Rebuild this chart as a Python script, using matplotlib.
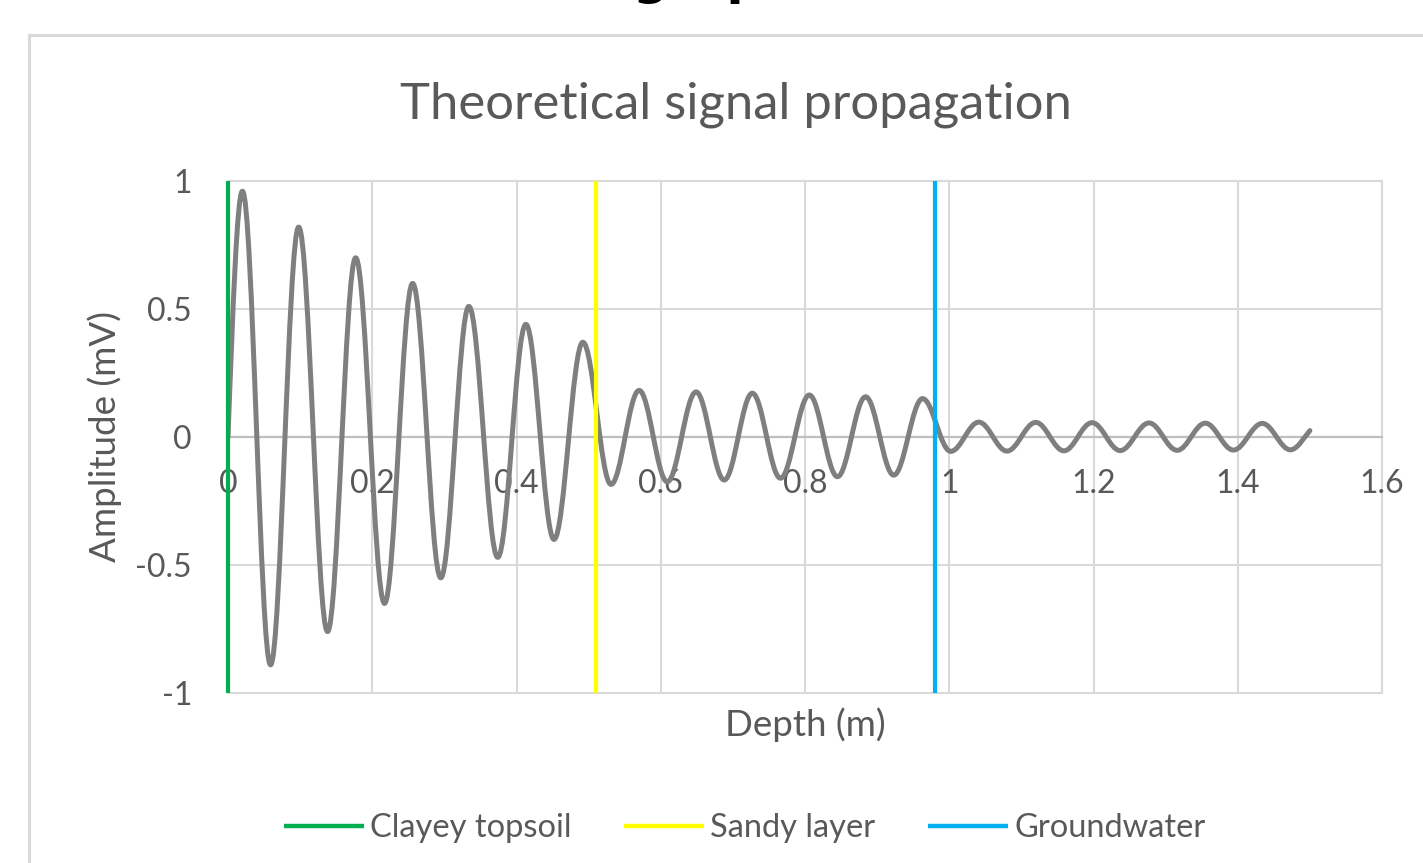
import matplotlib
matplotlib.use("Agg")
import matplotlib.pyplot as plt
from matplotlib.path import Path
from matplotlib.patches import PathPatch, Rectangle
from matplotlib.ticker import FixedLocator, FixedFormatter

plt.rcParams['font.family'] = ['Lato', 'DejaVu Sans']

# ---------------- data ----------------
# extrema of the theoretical signal (peaks / troughs), start and end point
depth = [0.000, 0.020, 0.059, 0.098, 0.138, 0.177, 0.217, 0.256, 0.295, 0.334, 0.374, 0.413, 0.452, 0.492,
         0.531, 0.570, 0.609, 0.649, 0.688, 0.727, 0.766, 0.806, 0.845, 0.884, 0.923, 0.963,
         1.002, 1.041, 1.080, 1.120, 1.159, 1.198, 1.237, 1.277, 1.316, 1.355, 1.394, 1.434, 1.473, 1.500]
amplitude = [0.00, 0.96, -0.89, 0.82, -0.76, 0.70, -0.65, 0.60, -0.55, 0.51, -0.47, 0.44, -0.40, 0.37,
             -0.185, 0.182, -0.175, 0.176, -0.168, 0.171, -0.161, 0.164, -0.155, 0.157, -0.149, 0.150,
             -0.056, 0.058, -0.055, 0.057, -0.054, 0.056, -0.053, 0.055, -0.052, 0.054, -0.051, 0.053, -0.050, 0.025]

layer_names = ['Clayey topsoil', 'Sandy layer', 'Groundwater']
layer_depths = [0.0, 0.51, 0.98]
layer_colors = ['#00b050', '#ffff00', '#00b0f0']
marker_span = [-1, 1]

x_ticks = [0, 0.2, 0.4, 0.6, 0.8, 1.0, 1.2, 1.4, 1.6]
x_tick_labels = ['0', '0.2', '0.4', '0.6', '0.8', '1', '1.2', '1.4', '1.6']
y_ticks = [-1, -0.5, 0, 0.5, 1]
y_tick_labels = ['-1', '-0.5', '0', '0.5', '1']

title = 'Theoretical signal propagation'
x_title = 'Depth (m)'
y_title = 'Amplitude (mV)'

# ---------------- figure ----------------
W, H = 1423, 863
fig = plt.figure(figsize=(W / 100, H / 100), dpi=100)
fig.patch.set_facecolor('white')

TXT = '#595959'
GRID = '#d9d9d9'

# cut-off heading above the chart box
fig.text(633 / W, 1 + 5.5 / H, 'graph', fontsize=36, fontweight='bold', color='black',
         family='DejaVu Sans', ha='left', va='baseline')

# chart area border (extends beyond the picture)
fig.patches.append(Rectangle((29 / W, -0.2), 2.0, 1.2 - 35 / H, transform=fig.transFigure,
                             fill=False, edgecolor=GRID, linewidth=2.2, zorder=0))

ax = fig.add_axes([228 / W, 1 - 693 / H, (1382 - 228) / W, (693 - 181) / H])
ax.set_facecolor('none')
ax.set_xlim(0, 1.6)
ax.set_ylim(-1, 1)

for s in ['top', 'right', 'left']:
    ax.spines[s].set_visible(False)
ax.spines['bottom'].set_position(('data', 0))
ax.spines['bottom'].set_color('#bfbfbf')
ax.spines['bottom'].set_linewidth(1.6)

ax.xaxis.set_major_locator(FixedLocator(x_ticks))
ax.xaxis.set_major_formatter(FixedFormatter(x_tick_labels))
ax.yaxis.set_major_locator(FixedLocator(y_ticks))
ax.yaxis.set_major_formatter(FixedFormatter(y_tick_labels))
ax.tick_params(axis='both', length=0, labelsize=23, labelcolor=TXT)
ax.tick_params(axis='x', pad=23)
ax.tick_params(axis='y', pad=26)

ax.grid(True, color=GRID, linewidth=1.5)
for g in ax.get_xgridlines() + ax.get_ygridlines():
    g.set_clip_on(False)

# smooth signal curve through the extrema
verts = [(depth[0], amplitude[0])]
codes = [Path.MOVETO]
n = len(depth)
for i in range(n - 1):
    x0, y0 = depth[i], amplitude[i]
    x1, y1 = depth[i + 1], amplitude[i + 1]
    h = x1 - x0
    if i == 0:
        c1 = (x0 + 0.326 * h, y0 + 0.512 * (y1 - y0))
        c2 = (x0 + 0.639 * h, y1)
    elif i == n - 2:
        c1 = (x0 + 0.36 * h, y0)
        c2 = (x1 - 0.30 * h, y1 - 0.35 * (y1 - y0))
    else:
        c1 = (x0 + 0.3634 * h, y0)
        c2 = (x1 - 0.3634 * h, y1)
    verts += [c1, c2, (x1, y1)]
    codes += [Path.CURVE4] * 3
ax.add_patch(PathPatch(Path(verts, codes), facecolor='none', edgecolor='#7f7f7f',
                       linewidth=3.6, capstyle='round', joinstyle='round', zorder=3))

handles = []
for name, d, c in zip(layer_names, layer_depths, layer_colors):
    ln, = ax.plot([d, d], marker_span, color=c, linewidth=3.0, label=name, zorder=4,
                  solid_capstyle='butt', clip_on=False)
    handles.append(ln)

fig.text(736 / W, 1 - 119 / H, title, fontsize=36.5, color=TXT, ha='center', va='baseline')
fig.text(805 / W, 1 - 725 / H, x_title, fontsize=26.5, color=TXT, ha='center', va='center')
fig.text(105 / W, 1 - 437 / H, y_title, fontsize=26.5, color=TXT, ha='center', va='center',
         rotation=90)

leg = fig.legend(handles=handles, labels=layer_names, ncol=3, loc='center',
                 bbox_to_anchor=(744.5 / W, 1 - 828 / H), frameon=False, fontsize=23.5,
                 handlelength=2.45, handletextpad=0.2, columnspacing=1.6)
for t in leg.get_texts():
    t.set_color(TXT)
for l in leg.get_lines():
    l.set_linewidth(3.2)

fig.savefig('out.png', dpi=100, facecolor='white')
